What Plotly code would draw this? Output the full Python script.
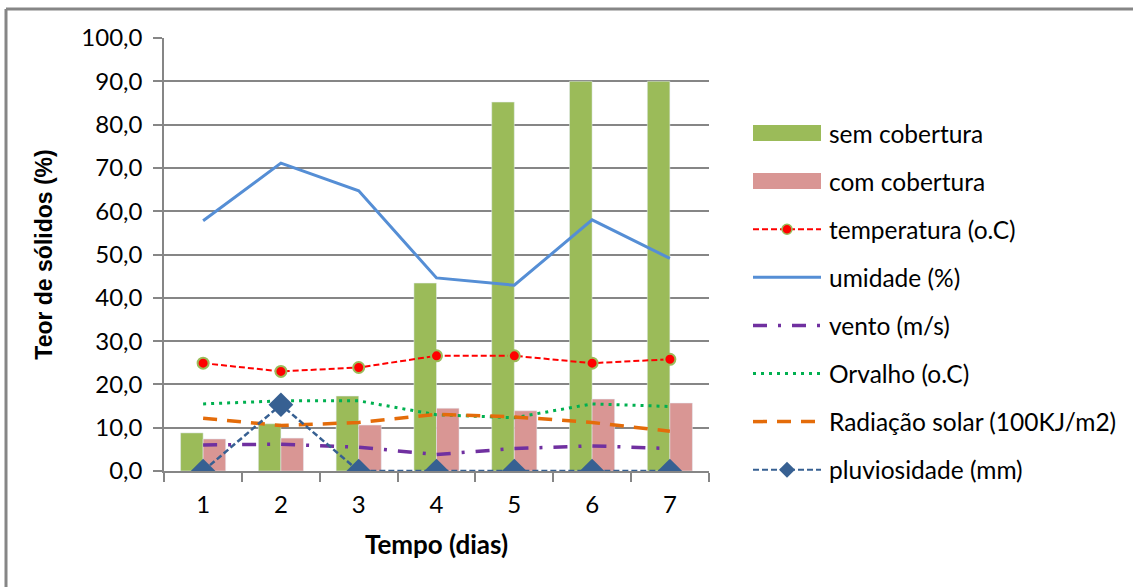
import plotly.graph_objects as go

# Daily series (days 1..7)
dias = ["1", "2", "3", "4", "5", "6", "7"]
sem_cobertura = [8.8, 10.9, 17.3, 43.4, 85.2, 90.0, 90.0]
com_cobertura = [7.4, 7.6, 10.6, 14.5, 13.9, 16.6, 15.7]
temperatura = [24.9, 23.0, 23.9, 26.6, 26.6, 24.9, 25.8]
umidade = [57.8, 71.1, 64.7, 44.6, 42.9, 58.0, 49.1]
vento = [6.0, 6.2, 5.5, 3.8, 5.2, 5.8, 5.2]
orvalho = [15.5, 16.2, 16.2, 13.0, 12.3, 15.5, 14.9]
radiacao = [12.2, 10.5, 11.2, 13.1, 12.5, 11.2, 9.2]
pluviosidade = [0.0, 15.3, 0.0, 0.0, 0.0, 0.0, 0.0]

y_ticks = [0, 10, 20, 30, 40, 50, 60, 70, 80, 90, 100]

FONT = "Lato"
GRAY = "#868686"
W, H = 1133, 587
L, R, T, B = 164, 709, 38, 471  # plot area edges in pixels

GREEN = "#9BBB59"
PINK = "#D99694"
RED = "#FF0000"
BLUE = "#558ED5"
PURPLE = "#7030A0"
DEW = "#00B050"
ORANGE = "#E46C0A"
NAVY = "#376092"

DASH_TEMP = "6px,3px"
DASH_VENTO = "14px,11px,3px,11px"
DASH_ORV = "3px,5px"
DASH_RAD = "14px,10px"
DASH_PLUV = "6px,3px"

fig = go.Figure()
fig.add_bar(x=dias, y=sem_cobertura, name="sem cobertura", marker_color=GREEN)
fig.add_bar(x=dias, y=com_cobertura, name="com cobertura", marker_color=PINK)
fig.add_scatter(x=dias, y=umidade, name="umidade (%)", mode="lines",
                line=dict(color=BLUE, width=3))
fig.add_scatter(x=dias, y=vento, name="vento (m/s)", mode="lines",
                line=dict(color=PURPLE, width=3.5, dash=DASH_VENTO))
fig.add_scatter(x=dias, y=orvalho, name="Orvalho (o.C)", mode="lines",
                line=dict(color=DEW, width=3, dash=DASH_ORV))
fig.add_scatter(x=dias, y=radiacao, name="Radiação solar (100KJ/m2)", mode="lines",
                line=dict(color=ORANGE, width=3.5, dash=DASH_RAD))
fig.add_scatter(x=dias, y=temperatura, name="temperatura (o.C)", mode="lines+markers",
                line=dict(color=RED, width=2, dash=DASH_TEMP),
                marker=dict(symbol="circle", size=11, color=RED,
                            line=dict(color=GREEN, width=2)))
fig.add_scatter(x=dias, y=pluviosidade, name="pluviosidade (mm)", mode="lines+markers",
                line=dict(color=NAVY, width=2.5, dash=DASH_PLUV),
                marker=dict(symbol="diamond", size=19, color=NAVY))
fig.update_traces(showlegend=False)


def px_x(p):
    return (p - L) / (R - L)


def px_y(p):
    return (B - p) / (B - T)


shapes = []
annotations = []

# Outer chart frame: only its top and left edges lie inside the page
for x0, y0, x1, y1 in [(6, 9, 1133, 9), (6, 9, 6, 587)]:
    shapes.append(dict(type="line", xref="paper", yref="paper",
                       x0=px_x(x0), x1=px_x(x1), y0=px_y(y0), y1=px_y(y1),
                       line=dict(color=GRAY, width=3), layer="below"))

# Legend drawn beside the plot
legend_items = [
    ("sem cobertura", "bar", GREEN, None, None),
    ("com cobertura", "bar", PINK, None, None),
    ("temperatura (o.C)", "line", RED, DASH_TEMP, "circle"),
    ("umidade (%)", "line", BLUE, "solid", None),
    ("vento (m/s)", "line", PURPLE, DASH_VENTO, None),
    ("Orvalho (o.C)", "line", DEW, DASH_ORV, None),
    ("Radiação solar (100KJ/m2)", "line", ORANGE, DASH_RAD, None),
    ("pluviosidade (mm)", "line", NAVY, DASH_PLUV, "diamond"),
]
sx0, sx1, tx = 753, 821, 827
widths = {RED: 2, BLUE: 3, PURPLE: 3.5, DEW: 3, ORANGE: 3.5, NAVY: 2}
for i, (label, kind, color, dash, sym) in enumerate(legend_items):
    cy = 133 + 48.1 * i
    if kind == "bar":
        shapes.append(dict(type="rect", xref="paper", yref="paper",
                           x0=px_x(sx0), x1=px_x(sx1), y0=px_y(cy + 8), y1=px_y(cy - 8),
                           line=dict(width=0), fillcolor=color))
    else:
        shapes.append(dict(type="line", xref="paper", yref="paper",
                           x0=px_x(sx0), x1=px_x(sx1), y0=px_y(cy), y1=px_y(cy),
                           line=dict(color=color, width=widths[color], dash=dash)))
        mx = (sx0 + sx1) / 2
        if sym == "circle":
            r = 5
            shapes.append(dict(type="circle", xref="paper", yref="paper",
                               x0=px_x(mx - r), x1=px_x(mx + r),
                               y0=px_y(cy + r), y1=px_y(cy - r),
                               line=dict(color=GREEN, width=1.5), fillcolor=RED))
        elif sym == "diamond":
            r = 8
            path = (f"M{px_x(mx - r)},{px_y(cy)} L{px_x(mx)},{px_y(cy - r)} "
                    f"L{px_x(mx + r)},{px_y(cy)} L{px_x(mx)},{px_y(cy + r)} Z")
            shapes.append(dict(type="path", xref="paper", yref="paper", path=path,
                               line=dict(width=0), fillcolor=NAVY))
    annotations.append(dict(text=label, xref="paper", yref="paper",
                            x=px_x(tx), y=px_y(cy), xanchor="left", yanchor="middle",
                            showarrow=False, font=dict(family=FONT, size=24.5, color="#000")))

fig.update_layout(
    width=W, height=H,
    margin=dict(l=L, r=W - R, t=T, b=H - B),
    paper_bgcolor="white", plot_bgcolor="white",
    barmode="group", bargap=0.42, bargroupgap=0,
    separators=",.",
    font=dict(family=FONT, size=24, color="#000"),
    shapes=shapes, annotations=annotations,
    showlegend=False,
)
fig.update_xaxes(
    type="category", showgrid=False, showline=True, linecolor=GRAY, linewidth=1.5,
    ticks="outside", tickson="boundaries", ticklen=9, tickcolor=GRAY, tickwidth=1.5,
    ticklabelstandoff=11, tickfont=dict(family=FONT, size=24),
    title=dict(text="<b>Tempo (dias)</b>", standoff=19,
               font=dict(family=FONT, size=26)),
)
fig.update_yaxes(
    range=[0, 100], tickvals=y_ticks, tickformat=".1f",
    showgrid=True, gridcolor=GRAY, gridwidth=1.5, zeroline=False,
    showline=True, linecolor=GRAY, linewidth=1.5,
    ticks="outside", ticklen=9, tickcolor=GRAY, tickwidth=1.5,
    ticklabelstandoff=6, tickfont=dict(family=FONT, size=24),
    title=dict(text="<b>Teor de sólidos (%)</b>", standoff=22,
               font=dict(family="Liberation Sans", size=23)),
)

fig.write_html("out.html")
